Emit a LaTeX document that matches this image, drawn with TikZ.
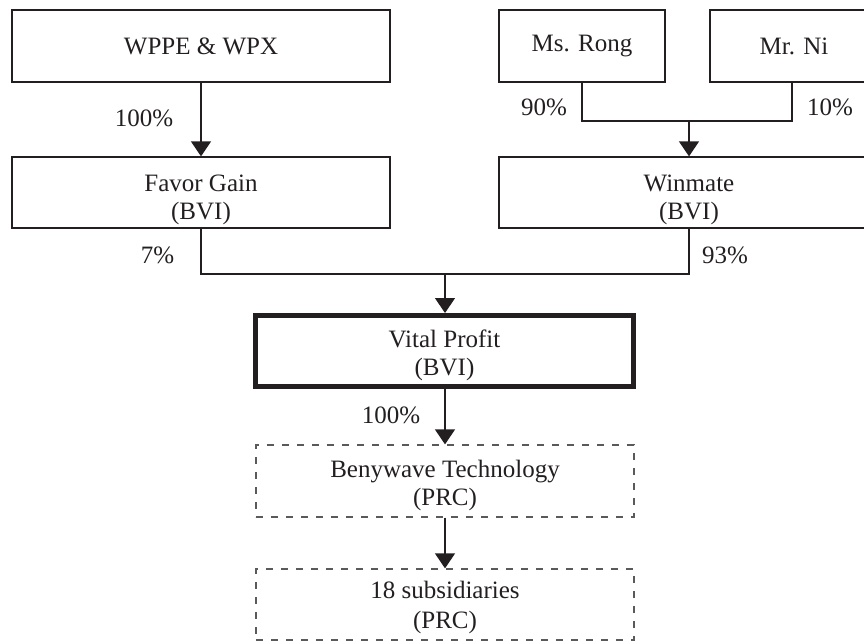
\documentclass[tikz,border=0pt]{standalone}
\usepackage{fontspec}
\setmainfont{Liberation Serif}
\usetikzlibrary{arrows.meta}
\definecolor{ink}{HTML}{231F20}
\definecolor{dashgray}{HTML}{5A5A5A}
\newcommand{\myst}[1]{\rule{0pt}{#1}}
\begin{document}
\begin{tikzpicture}[x=1pt,y=-1pt,
  every node/.style={text=ink,font=\fontsize{25}{28}\selectfont},
  box/.style={draw=ink,line width=1.3pt,rectangle,align=center,inner sep=0pt,minimum height=#1},
  box/.default=72pt,
  keybox/.style={draw=ink,line width=5pt,rectangle,align=center,inner sep=0pt,minimum height=71pt,minimum width=378pt},
  dbox/.style={draw=dashgray,line width=1.3pt,dash pattern=on 7pt off 8pt,rectangle,align=center,inner sep=0pt,minimum height=#1,minimum width=378pt},
  dbox/.default=72pt,
  link/.style={draw=ink,line width=1.3pt},
  arr/.style={link,-{Triangle[width=20pt,length=15pt]}},
  pct/.style={inner sep=0pt}
]
\useasboundingbox (0,0) rectangle (864,641);

% boxes
\node[box,minimum width=378pt] (wppe) at (201,46) {WPPE \& WPX};
\node[box,minimum width=166pt] (rong) at (582,46) {Ms. Rong};
\node[box,minimum width=168pt] (ni) at (794,46) {Mr. Ni};
\node[box=71pt,minimum width=378pt] (favor) at (201,192.5) {\myst{32pt}Favor Gain\\(BVI)};
\node[box=71pt,minimum width=380pt] (winmate) at (689,192.5) {\myst{31pt}Winmate\\(BVI)};
\node[keybox] (vital) at (444.5,351) {\myst{27pt}Vital Profit\\(BVI)};
\node[dbox] (beny) at (445,481) {\myst{27pt}Benywave Technology\\(PRC)};
\node[dbox=71pt] (subs) at (445,604.5) {\myst{23pt}18 subsidiaries\\[2pt](PRC)};

% junctions
\coordinate (j1) at (689,121);
\coordinate (j2) at (445,274);

% connectors
\draw[arr] (wppe.south) -- (favor.north);
\draw[link] (rong.south) |- (j1) -| (792,82);
\draw[arr] (j1) -- (winmate.north);
\draw[link] (favor.south) |- (j2) -| (winmate.south);
\draw[arr] (j2) -- (vital.north -| j2);
\draw[arr] (vital.south -| beny.north) -- (beny.north);
\draw[arr] (beny.south) -- (subs.north);

% percentages
\node[pct] (p1) at (144,118) {100\%};
\node[pct] (p2) at (544,107) {90\%};
\node[pct] (p3) at (830,107) {10\%};
\node[pct] (p4) at (157.5,255) {7\%};
\node[pct] (p5) at (725,255) {93\%};
\node[pct] (p6) at (391,415) {100\%};
\end{tikzpicture}
\end{document}
